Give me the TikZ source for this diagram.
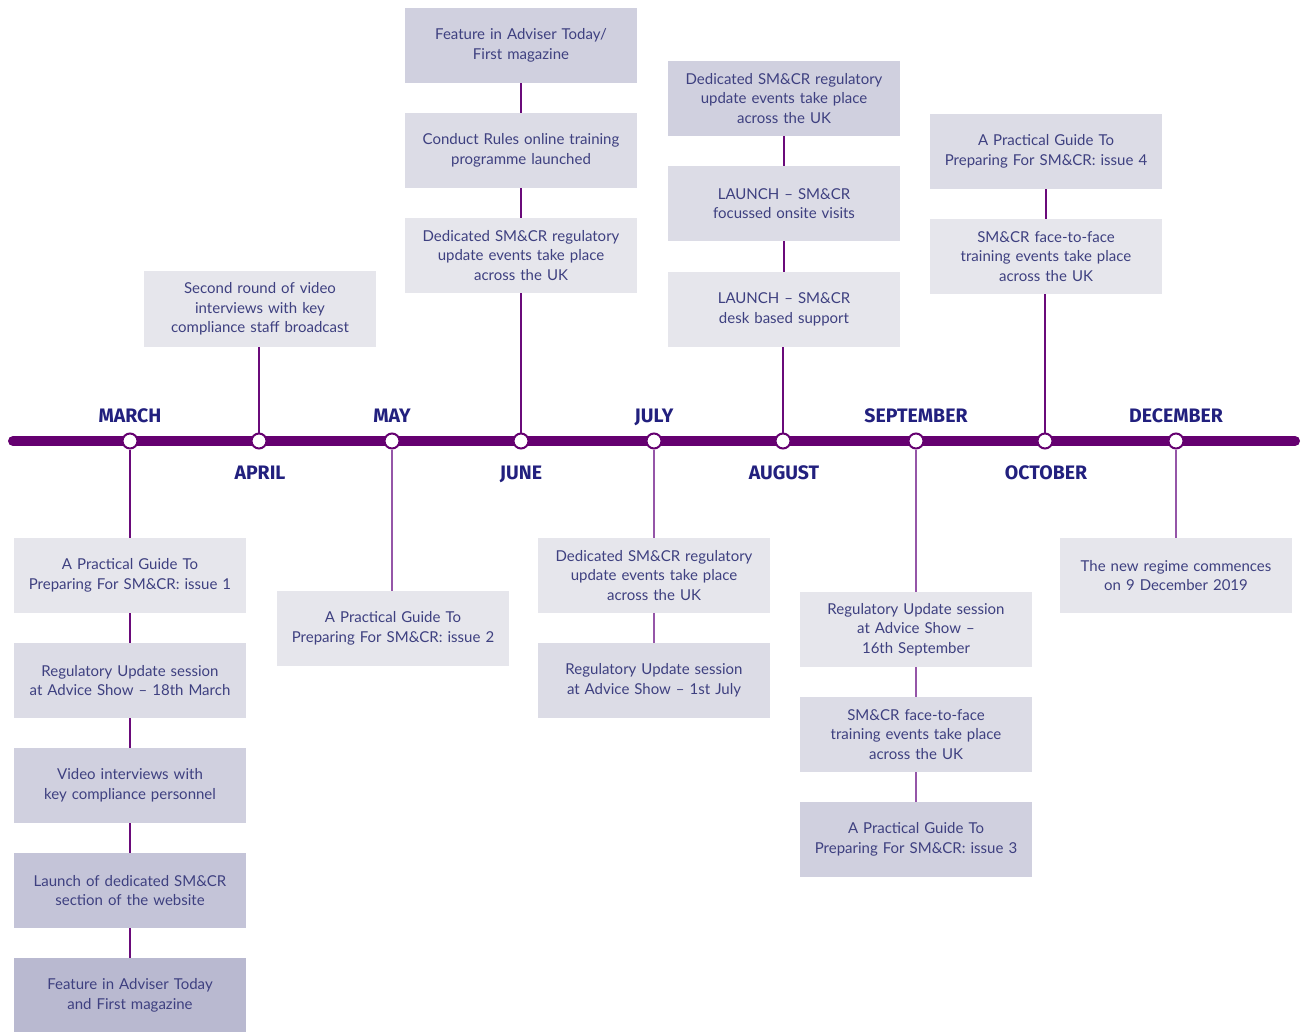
\documentclass[tikz,border=0pt]{standalone}
\usepackage{fontspec}
\setmainfont{Lato}
\newfontfamily\monthfont{Fira Sans}
\definecolor{tline}{HTML}{650070}
\definecolor{conn}{HTML}{6A0A7A}
\definecolor{connlt}{HTML}{9556A8}
\definecolor{txt}{HTML}{3E4080}
\definecolor{mon}{HTML}{22207E}
\definecolor{lvA}{HTML}{E6E6EC}
\definecolor{lvB}{HTML}{DCDCE6}
\definecolor{lvC}{HTML}{D0D0DF}
\definecolor{lvD}{HTML}{C4C4D8}
\definecolor{lvE}{HTML}{B9B9D0}
\tikzset{
  evbox/.style={rectangle, inner sep=0pt, minimum width=232pt, minimum height=75pt,
    text width=226pt, align=center, text=txt, font=\fontsize{15}{19.5}\selectfont},
  monthlbl/.style={text=mon, font=\monthfont\bfseries\fontsize{19.5}{22}\selectfont, inner sep=0pt, anchor=base},
  dot/.style={circle, draw=tline, line width=2pt, fill=white, minimum size=15pt, inner sep=0pt},
  link/.style={draw=conn, line width=1.3pt},
  linklt/.style={draw=connlt, line width=1.3pt}
}
\begin{document}
\begin{tikzpicture}[x=1pt,y=-1pt]
\useasboundingbox (0,0) rectangle (1303,1032);
% timeline
\coordinate (tl) at (13,441);
\coordinate (tr) at (1295,441);
\draw[tline, line width=10pt, line cap=round] (tl) -- (tr);

% boxes
% March
\node[evbox, fill=lvA] (ma1) at (130,575.5) {A Practical Guide To\\Preparing For SM\&CR: issue 1};
\node[evbox, fill=lvB] (ma2) at (130,680.5) {Regulatory Update session\\at Advice Show – 18th March};
\node[evbox, fill=lvC] (ma3) at (130,785.5) {Video interviews with\\key compliance personnel};
\node[evbox, fill=lvD] (ma4) at (130,890.5) {Launch of dedicated SM\&CR\\section of the website};
\node[evbox, fill=lvE] (ma5) at (130,995.5) {Feature in Adviser Today\\and First magazine};
% April
\node[evbox, fill=lvA] (ap1) at (260,309) {Second round of video\\interviews with key\\compliance staff broadcast};
% May
\node[evbox, fill=lvA] (my1) at (393,628.5) {A Practical Guide To\\Preparing For SM\&CR: issue 2};
% June
\node[evbox, fill=lvA] (jn1) at (521,255.5) {Dedicated SM\&CR regulatory\\update events take place\\across the UK};
\node[evbox, fill=lvB] (jn2) at (521,150.5) {Conduct Rules online training\\programme launched};
\node[evbox, fill=lvC] (jn3) at (521,45.5) {Feature in Adviser Today/\\First magazine};
% July
\node[evbox, fill=lvA] (jl1) at (654,575.5) {Dedicated SM\&CR regulatory\\update events take place\\across the UK};
\node[evbox, fill=lvB] (jl2) at (654,680.5) {Regulatory Update session\\at Advice Show – 1st July};
% August
\node[evbox, fill=lvA] (au1) at (784,309.5) {LAUNCH – SM\&CR\\desk based support};
\node[evbox, fill=lvB] (au2) at (784,203.5) {LAUNCH – SM\&CR\\focussed onsite visits};
\node[evbox, fill=lvC] (au3) at (784,98.5) {Dedicated SM\&CR regulatory\\update events take place\\across the UK};
% September
\node[evbox, fill=lvA] (se1) at (916,629.5) {Regulatory Update session\\at Advice Show –\\16th September};
\node[evbox, fill=lvB] (se2) at (916,734.5) {SM\&CR face-to-face\\training events take place\\across the UK};
\node[evbox, fill=lvC] (se3) at (916,839.5) {A Practical Guide To\\Preparing For SM\&CR: issue 3};
% October
\node[evbox, fill=lvA] (oc1) at (1046,256.5) {SM\&CR face-to-face\\training events take place\\across the UK};
\node[evbox, fill=lvB] (oc2) at (1046,151.5) {A Practical Guide To\\Preparing For SM\&CR: issue 4};
% December
\node[evbox, fill=lvA] (de1) at (1176,575.5) {The new regime commences\\on 9 December 2019};

% dots
\node[dot] (dmar) at (130,441) {};
\node[dot] (dapr) at (259,441) {};
\node[dot] (dmay) at (392,441) {};
\node[dot] (djun) at (521,441) {};
\node[dot] (djul) at (654,441) {};
\node[dot] (daug) at (783,441) {};
\node[dot] (dsep) at (916,441) {};
\node[dot] (doct) at (1045,441) {};
\node[dot] (ddec) at (1176,441) {};

% connectors
\draw[link] (dmar.south) -- (ma1.north);
\draw[link] (ma1.south) -- (ma2.north);
\draw[link] (ma2.south) -- (ma3.north);
\draw[link] (ma3.south) -- (ma4.north);
\draw[link] (ma4.south) -- (ma5.north);
\draw[link] (dapr.north) -- (dapr.north |- ap1.south);
\draw[linklt] (dmay.south) -- (dmay.south |- my1.north);
\draw[link] (djun.north) -- (jn1.south);
\draw[link] (jn1.north) -- (jn2.south);
\draw[link] (jn2.north) -- (jn3.south);
\draw[linklt] (djul.south) -- (jl1.north);
\draw[linklt] (jl1.south) -- (jl2.north);
\draw[link] (daug.north) -- (daug.north |- au1.south);
\draw[link] (au1.north) -- (au2.south);
\draw[link] (au2.north) -- (au3.south);
\draw[linklt] (dsep.south) -- (se1.north);
\draw[linklt] (se1.south) -- (se2.north);
\draw[linklt] (se2.south) -- (se3.north);
\draw[link] (doct.north) -- (doct.north |- oc1.south);
\draw[link] (oc1.north) -- (oc2.south);
\draw[linklt] (ddec.south) -- (de1.north);

% month labels
\node[monthlbl] (lmar) at (130,422) {MARCH};
\node[monthlbl] (lapr) at (260,479) {APRIL};
\node[monthlbl] (lmay) at (392,422) {MAY};
\node[monthlbl] (ljun) at (521,479) {JUNE};
\node[monthlbl] (ljul) at (654,422) {JULY};
\node[monthlbl] (laug) at (784,479) {AUGUST};
\node[monthlbl] (lsep) at (916,422) {SEPTEMBER};
\node[monthlbl] (loct) at (1046,479) {OCTOBER};
\node[monthlbl] (ldec) at (1176,422) {DECEMBER};
\end{tikzpicture}
\end{document}
